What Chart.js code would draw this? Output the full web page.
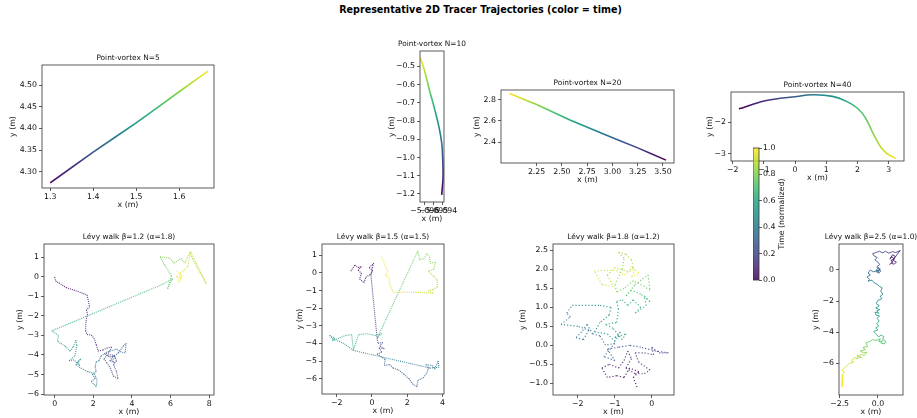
<!DOCTYPE html>
<html lang="en">
<head>
<meta charset="UTF-8">
<title>Representative 2D Tracer Trajectories</title>
<script src="https://cdn.jsdelivr.net/npm/chart.js"></script>
<style>
  body { margin: 0; background: #fff; }
  #fig { position: relative; width: 917px; height: 418px; overflow: hidden; font-family: 'DejaVu Sans', sans-serif; }
  #suptitle { position: absolute; left: 0; top: 4px; width: 961px; text-align: center; font-weight: bold; font-size: 9.6px; line-height: 12px; color: #000; }
  canvas { position: absolute; }
</style>
</head>
<body>
<div id="fig">
  <div id="suptitle">Representative 2D Tracer Trajectories (color = time)</div>
</div>
<script>
// ---- point-vortex tracers ----
const pv5X = [1.300, 1.400, 1.500, 1.600, 1.667];
const pv5Y = [4.274, 4.345, 4.413, 4.485, 4.533];
const pv5XLim = [1.281, 1.681], pv5YLim = [4.262, 4.547];
const pv5XTicks = [1.3, 1.4, 1.5, 1.6], pv5YTicks = [4.30, 4.35, 4.40, 4.45, 4.50];

const pv10X = [-5.09411, -5.09397, -5.09400, -5.09411, -5.09442, -5.09487, -5.09547, -5.09603, -5.09649];
const pv10Y = [-1.205, -1.105, -1.014, -0.922, -0.832, -0.740, -0.631, -0.522, -0.452];
const pv10XLim = [-5.09652, -5.09386], pv10YLim = [-1.244, -0.416];
const pv10XTicks = [-5.096, -5.095, -5.094], pv10YTicks = [-1.2, -1.1, -1.0, -0.9, -0.8, -0.7, -0.6, -0.5];

const pv20X = [3.53, 3.25, 2.90, 2.58, 2.25, 1.98];
const pv20Y = [2.232, 2.347, 2.483, 2.610, 2.754, 2.860];
const pv20XLim = [1.898, 3.609], pv20YLim = [2.205, 2.891];
const pv20XTicks = [2.25, 2.50, 2.75, 3.00, 3.25, 3.50], pv20YTicks = [2.4, 2.6, 2.8];

const pv40X = [-1.80, -0.96, 0.0, 0.58, 1.2, 1.65, 2.0, 2.25, 2.45, 2.6, 2.75, 2.94, 3.23];
const pv40Y = [-1.57, -1.31, -1.18, -1.12, -1.17, -1.33, -1.55, -1.85, -2.25, -2.55, -2.8, -3.0, -3.16];
const pv40XLim = [-2.054, 3.49], pv40YLim = [-3.24, -1.03];
const pv40XTicks = [-2, -1, 0, 1, 2, 3], pv40YTicks = [-3, -2];

// ---- Levy walks ----
const levy12X = [0, 0.05, 0.6, 1.2, 1.68, 1.81, 1.65, 1.7, 1.62, 1.6, 1.68, 1.9, 2.04, 2.16, 2.25, 2.5, 2.7, 2.95, 2.8, 2.6,
  2.85, 3.1, 3.2, 3.05, 3.2, 3.28, 3.05, 2.9, 2.7, 2.55, 2.75, 3.0, 3.15, 2.95, 3.1, 2.85, 3.0, 3.3, 3.55, 3.7,
  3.65, 3.45, 3.2, 2.7, 2.4, 2.3, 2.15, 2.1, 2.15, 1.95, 2.1, 1.9, 2.15, 2.2, 2.05, 1.7, 1.4, 1.1, 1.35, 1.2,
  1.3, 1.15, 1.0, 0.75, 1.05, 1.15, 1.1, 0.95, 0.8, 0.55, 0.3, 0.15, 0.2, -0.15, 5.6, 6.1, 5.85, 6.05, 5.7, 5.45,
  5.95, 6.2, 6.55, 6.75, 7.0, 7.15, 7.85, 7.3, 7.05, 6.9, 6.7, 6.45, 6.55, 6.3, 6.45, 6.6, 6.35];
const levy12Y = [0, -0.21, -0.55, -0.75, -0.93, -1.53, -1.7, -1.9, -2.3, -2.77, -2.95, -2.98, -3.15, -3.49, -3.8, -3.75, -3.65, -3.6, -3.9, -3.95,
  -4.1, -4.05, -4.3, -4.5, -4.85, -5.2, -5.1, -4.7, -4.4, -4.2, -4.0, -4.0, -4.15, -4.25, -4.4, -4.3, -4.1, -3.9, -3.55, -3.4,
  -3.9, -3.85, -3.7, -3.85, -4.05, -4.3, -4.35, -4.6, -4.85, -5.0, -5.2, -5.35, -5.62, -5.3, -4.95, -4.85, -4.7, -4.5, -4.2, -4.35,
  -4.55, -4.4, -4.25, -4.3, -4.05, -3.5, -3.25, -3.6, -3.8, -3.55, -3.4, -3.3, -3.0, -2.77, -0.38, -0.1, -0.6, 0.05, 0.6, 1.03,
  0.95, 0.7, 0.95, 0.7, 1.25, 0.9, -0.35, 0.75, 1.3, 0.55, 0.35, 0.15, -0.1, 0.05, -0.28, 0.05, 0.3];
const levy12XLim = [-0.55, 8.25], levy12YLim = [-6.05, 1.68];
const levy12XTicks = [0, 2, 4, 6, 8], levy12YTicks = [-6, -5, -4, -3, -2, -1, 0, 1];

const levy15X = [-1.2, -0.97, -0.8, -0.6, -0.78, -0.6, -0.7, -0.45, -0.35, -0.1, 0.05, -0.15, 0.1, 0.0, -0.05, 0.3, 0.35, 0.6, 0.45, 0.7,
  0.4, 0.55, 0.3, 0.5, 0.75, 0.7, 1.0, 1.2, 1.5, 1.8, 2.1, 2.3, 2.55, 2.6, 2.9, 3.1, 3.2, 3.05, 3.4, 3.55,
  3.75, 3.8, 3.3, -1.05, -1.6, -2.2, -2.4, -2.1, -2.25, -1.5, -1.15, -1.05, -0.75, -0.3, 0.2, 0.55, 0.3, 2.6, 2.7, 2.95,
  3.1, 3.25, 3.3, 3.6, 3.5, 3.2, 3.5, 3.7, 3.7, 3.45, 3.2, 3.45, 2.5, 1.9, 1.2, 1.0, 0.95, 0.75, 0.9, 0.5];
const levy15Y = [0.1, 0.45, 0.3, 0.35, 0.15, -0.02, -0.35, -0.55, -0.25, -0.1, 0.1, 0.3, 0.55, 0.25, -0.2, -3.8, -4.0, -3.95, -4.15, -4.3,
  -4.25, -4.5, -4.6, -4.75, -4.9, -5.25, -5.2, -5.4, -5.5, -5.75, -6.0, -6.3, -6.45, -6.1, -5.95, -5.7, -5.4, -5.2, -5.25, -5.45,
  -5.0, -5.35, -5.4, -4.4, -4.0, -3.75, -3.55, -3.7, -3.85, -3.55, -3.5, -4.35, -3.5, -3.45, -3.55, -3.45, -3.7, 1.25, 0.75, 0.8,
  1.1, 0.9, 0.55, 0.6, 0.2, 0.1, -0.2, -0.4, -0.8, -0.95, -1.0, -1.15, -1.1, -1.1, -1.1, -0.6, -0.25, -0.15, 0.05, 1.0];
const levy15XLim = [-2.83, 4.08], levy15YLim = [-6.87, 1.64];
const levy15XTicks = [-2, 0, 2, 4], levy15YTicks = [-6, -5, -4, -3, -2, -1, 0, 1];

const levy18X = [-0.4, -0.5, -0.35, -0.6, -0.75, -0.95, -1.2, -1.35, -1.15, -0.9, -0.75, -0.65, -0.55, -0.7, -0.45, -0.2, -0.05, -0.35, -0.45, -0.2,
  0.05, 0.0, 0.2, 0.45, 0.1, -0.3, -0.6, -0.9, -1.2, -1.0, -1.3, -1.0,
  -1.25, -1.4, -1.6, -1.75, -1.9, -2.05, -1.85, -1.7, -2.0, -2.45, -2.2, -2.3, -2.15, -1.8, -1.4, -1.1, -1.15, -1.4, -1.55, -1.2,
  -1.0, -0.85, -1.0, -0.7, -0.8, -1.05, -1.25, -0.95, -0.9,
  -0.95, -0.8, -0.65, -0.5, -0.3, -0.45, -0.15, -0.2, -0.05, -0.3, -0.55, -0.7,
  -0.45, -0.25, -0.1, -0.05, -0.2, -0.5, -0.75, -0.95, -1.0,
  -0.8, -0.75, -0.9, -0.7, -0.55, -0.5, -0.65, -1.0, -1.2, -1.05, -1.35,
  -1.55, -1.3, -0.95, -0.75, -0.6, -0.45, -0.55, -0.35, -0.6];
const levy18Y = [-1.1, -0.85, -0.7, -0.6, -0.85, -0.8, -0.85, -0.6, -0.5, -0.6, -0.4, -0.15, -0.35, -0.6, -0.75, -0.75, -0.65, -0.45, -0.2, -0.2,
  -0.25, -0.05, -0.2, -0.2, -0.15, -0.05, 0.0, -0.05, -0.1, -0.4, -0.3, 0.05,
  0.0, 0.25, 0.3, 0.55, 0.35, 0.2, 0.15, 0.4, 0.5, 0.55, 0.75, 0.85, 1.05, 1.05, 1.05, 1.0, 0.8, 0.6, 0.35, 0.3,
  0.1, 0.35, 0.2, 0.3, 0.15, 0.45, 0.55, 0.6, 0.95,
  1.15, 1.2, 1.05, 1.2, 1.0, 0.85, 1.05, 1.3, 1.15, 1.35, 1.45, 1.3,
  1.6, 1.75, 1.85, 1.45, 1.55, 1.7, 1.5, 1.4, 1.6,
  2.0, 2.3, 2.45, 2.4, 2.25, 2.05, 1.95, 2.05, 1.85, 1.55, 1.6,
  1.95, 1.98, 1.97, 1.85, 1.95, 2.0, 1.8, 1.9, 2.1];
const levy18XLim = [-2.67, 0.60], levy18YLim = [-1.31, 2.67];
const levy18XTicks = [-2, -1, 0], levy18YTicks = [-1.0, -0.5, 0.0, 0.5, 1.0, 1.5, 2.0, 2.5];

const levy25X = [0.75, 0.95, 0.85, 1.05, 0.9, 0.78, 0.95, 1.12, 1.0, 1.2, 1.05, 0.88, 1.1,
  1.25, 1.45, 1.15, 0.95, 0.7, 0.5, 0.3, 0.1, -0.15, -0.35, -0.25, -0.05, -0.2, 0.0, 0.12,
  -0.08, 0.12, 0.05, -0.12, 0.0, 0.18, 0.08, -0.1, 0.15, -0.05,
  -0.3, -0.5, -0.65, -0.5, -0.72, -0.55, -0.65, -0.4, -0.25, -0.05, 0.1, 0.28, 0.18, 0.32, 0.15, 0.25, 0.0,
  -0.12, 0.08, -0.15, 0.12, -0.08, 0.05, -0.2, -0.12, 0.1, -0.05, 0.08, -0.1, 0.05, -0.15, 0.0, -0.28, -0.12,
  0.05, 0.2, 0.38, 0.3, 0.52, 0.4, 0.18, 0.3, 0.05, 0.15, -0.12, -0.35, -0.55,
  -0.78, -0.68, -0.98, -0.82, -1.15, -0.95, -0.72, -0.9, -1.1, -1.25, -1.05, -1.35, -1.3,
  -1.55, -1.72, -1.58, -1.88,
  -2.05, -2.22, -2.36, -2.18, -2.3, -2.32, -2.34];
const levy25Y = [0.35, 0.5, 0.62, 0.72, 0.85, 0.7, 0.98, 0.88, 0.62, 0.5, 0.38, 0.42, 0.8,
  1.0, 1.25, 1.12, 1.18, 1.08, 1.2, 1.1, 1.2, 1.12, 1.05, 0.9, 0.8, 0.65, 0.5, 0.35,
  0.2, 0.1, -0.1, -0.02, 0.12, -0.05, -0.2, -0.12, 0.05, -0.05,
  -0.12, 0.0, -0.2, -0.32, -0.45, -0.6, -0.72, -0.65, -0.82, -0.92, -1.05, -1.15, -1.35, -1.55, -1.68, -1.85, -1.95,
  -2.15, -2.3, -2.45, -2.55, -2.62, -2.78, -2.7, -2.9, -2.95, -3.1, -3.3, -3.45, -3.6, -3.72, -3.85, -3.95, -4.12,
  -4.3, -4.18, -4.28, -4.45, -4.6, -4.75, -4.68, -4.55, -4.6, -4.42, -4.52, -4.48, -4.6,
  -4.68, -4.92, -4.98, -5.12, -5.2, -5.32, -5.28, -5.5, -5.42, -5.6, -5.65, -5.45, -5.72,
  -5.62, -5.82, -5.92, -6.0,
  -6.18, -6.32, -6.45, -6.55, -6.7, -7.1, -7.5];
const levy25XLim = [-2.54, 1.63], levy25YLim = [-8.03, 1.67];
const levy25XTicks = [-2.5, 0.0], levy25YTicks = [-6, -4, -2, 0];

// colorbar
const cbLabels = [''];
const cbRange = [[0, 1]];
const cbTicks = [0.0, 0.2, 0.4, 0.6, 0.8, 1.0];

// ---- helpers ----
const fig = document.getElementById('fig');
const TICK_PX = 7.8, LABEL_PX = 7.8, TITLE_PX = 7.4;
Chart.defaults.font.family = "'DejaVu Sans', sans-serif";
Chart.defaults.font.size = TICK_PX;
Chart.defaults.color = '#111';

const VIR = ['#440154', '#482475', '#414487', '#355f8d', '#2a788e', '#21918c', '#22a884', '#44bf70', '#7ad151', '#bddf26', '#fde725'];
function hexRgb(c) { return [1, 3, 5].map(i => parseInt(c.substr(i, 2), 16)); }
function viridis(t, a) {
  t = Math.min(1, Math.max(0, t));
  const f = t * 10, i = Math.min(9, Math.floor(f)), u = f - i;
  const c0 = hexRgb(VIR[i]), c1 = hexRgb(VIR[i + 1]);
  const c = c0.map((v, k) => Math.round(v + (c1[k] - v) * u));
  return `rgba(${c[0]},${c[1]},${c[2]},${a})`;
}

function pts(xs, ys) { return xs.map((x, i) => ({ x: x, y: ys[i] })); }

// constant-speed walk: time follows distance travelled
function arcTime(xs, ys) {
  const c = [0];
  for (let i = 1; i < xs.length; i++) c.push(c[i - 1] + Math.hypot(xs[i] - xs[i - 1], ys[i] - ys[i - 1]));
  return c.map(v => v / c[c.length - 1]);
}

function gradientColor(xs, ys, alpha) {
  return ctx => {
    const ch = ctx.chart;
    if (!ch.chartArea) return viridis(0, alpha);
    const sx = ch.scales.x, sy = ch.scales.y, n = xs.length - 1;
    const g = ch.ctx.createLinearGradient(sx.getPixelForValue(xs[0]), sy.getPixelForValue(ys[0]),
      sx.getPixelForValue(xs[n]), sy.getPixelForValue(ys[n]));
    for (let k = 0; k <= 10; k++) g.addColorStop(k / 10, viridis(k / 10, alpha));
    return g;
  };
}

function segColor(T, alpha) {
  return c => {
    const t0 = T[c.p0DataIndex], t1 = T[c.p1DataIndex];
    if (!c.chart || !isFinite(c.p0.x) || !isFinite(c.p1.x)) return viridis((t0 + t1) / 2, alpha);
    const g = c.chart.ctx.createLinearGradient(c.p0.x, c.p0.y, c.p1.x, c.p1.y);
    for (let k = 0; k <= 4; k++) g.addColorStop(k / 4, viridis(t0 + (t1 - t0) * k / 4, alpha));
    return g;
  };
}

const frame = {
  id: 'frame',
  afterDatasetsDraw(chart) {
    const { ctx, chartArea: a } = chart;
    ctx.save();
    ctx.strokeStyle = '#333';
    ctx.lineWidth = 0.8;
    ctx.strokeRect(a.left, a.top, a.right - a.left, a.bottom - a.top);
    ctx.restore();
  }
};

const axTitle = {
  id: 'axTitle',
  afterDraw(chart, args, opts) {
    if (!opts.text) return;
    const { ctx, chartArea: a } = chart;
    ctx.save();
    ctx.font = TITLE_PX + "px 'DejaVu Sans'";
    ctx.fillStyle = '#111';
    ctx.textAlign = 'center';
    ctx.textBaseline = 'middle';
    ctx.fillText(opts.text, (a.left + a.right) / 2, a.top - 7);
    ctx.restore();
  }
};

function scaleOpts(axis, lim, ticks, dec, size) {
  const isX = axis === 'x';
  return {
    type: 'linear',
    position: isX ? 'bottom' : 'left',
    min: lim[0], max: lim[1],
    afterBuildTicks: s => { s.ticks = ticks.map(v => ({ value: v })); },
    afterFit: s => {
      if (isX) { s.height = size; s.paddingLeft = 0; s.paddingRight = 0; }
      else { s.width = size; s.paddingTop = 0; s.paddingBottom = 0; }
    },
    ticks: {
      autoSkip: false, maxRotation: 0, minRotation: 0,
      padding: isX ? 1 : 2, color: '#111', font: { size: TICK_PX },
      callback: v => Number(v).toFixed(dec).replace('-', '\u2212')
    },
    grid: { drawOnChartArea: false, drawTicks: true, tickLength: 3, color: '#333', lineWidth: 0.8 },
    border: { display: false },
    title: { display: true, text: axis + ' (m)', font: { size: LABEL_PX }, color: '#111', padding: 0 }
  };
}

function panel(o) {
  const [l, t, r, b] = o.box;
  const padR = o.padR || 18, topH = 14, xH = 22;
  const w = o.yW + (r - l) + padR, h = topH + (b - t) + xH;
  const cv = document.createElement('canvas');
  cv.width = w; cv.height = h;
  cv.style.left = (l - o.yW) + 'px';
  cv.style.top = (t - topH) + 'px';
  cv.style.width = w + 'px';
  cv.style.height = h + 'px';
  fig.appendChild(cv);
  new Chart(cv, {
    type: 'line',
    data: { datasets: o.datasets },
    options: {
      responsive: false, animation: false, devicePixelRatio: 1,
      layout: { padding: { left: 0, top: topH, right: padR, bottom: 0 } },
      plugins: { legend: { display: false }, tooltip: { enabled: false }, axTitle: { text: o.title } },
      scales: {
        x: scaleOpts('x', o.xLim, o.xTicks, o.xDec, xH),
        y: scaleOpts('y', o.yLim, o.yTicks, o.yDec, o.yW)
      }
    },
    plugins: [frame, axTitle]
  });
}

function smoothSet(xs, ys, tension) {
  return [{ data: pts(xs, ys), borderColor: gradientColor(xs, ys, 1), borderWidth: 1.6,
    pointRadius: 0, tension: tension, fill: false }];
}

function walkSet(xs, ys, dash, width) {
  const T = arcTime(xs, ys), alpha = 0.85;
  return [{ data: pts(xs, ys), borderColor: viridis(0, alpha), borderWidth: width, borderDash: dash,
    pointRadius: 0, tension: 0, fill: false, segment: { borderColor: segColor(T, alpha) } }];
}

// ---- top row ----
panel({ title: 'Point-vortex N=5', box: [42, 65, 214, 188], yW: 34,
  xLim: pv5XLim, yLim: pv5YLim, xTicks: pv5XTicks, yTicks: pv5YTicks, xDec: 1, yDec: 2,
  datasets: smoothSet(pv5X, pv5Y, 0.1) });
panel({ title: 'Point-vortex N=10', box: [420, 51, 444, 202], yW: 33, padR: 34,
  xLim: pv10XLim, yLim: pv10YLim, xTicks: pv10XTicks, yTicks: pv10YTicks, xDec: 3, yDec: 1,
  datasets: smoothSet(pv10X, pv10Y, 0.4) });
panel({ title: 'Point-vortex N=20', box: [501, 90, 674, 163], yW: 29,
  xLim: pv20XLim, yLim: pv20YLim, xTicks: pv20XTicks, yTicks: pv20YTicks, xDec: 2, yDec: 1,
  datasets: smoothSet(pv20X, pv20Y, 0.1) });
panel({ title: 'Point-vortex N=40', box: [731, 92, 904, 161], yW: 26, padR: 12,
  xLim: pv40XLim, yLim: pv40YLim, xTicks: pv40XTicks, yTicks: pv40YTicks, xDec: 0, yDec: 0,
  datasets: smoothSet(pv40X, pv40Y, 0.3) });

// ---- bottom row ----
panel({ title: 'L\u00e9vy walk \u03b2=1.2 (\u03b1=1.8)', box: [44, 244, 214, 395], yW: 29,
  xLim: levy12XLim, yLim: levy12YLim, xTicks: levy12XTicks, yTicks: levy12YTicks, xDec: 0, yDec: 0,
  datasets: walkSet(levy12X, levy12Y, [1, 1], 1.1) });
panel({ title: 'L\u00e9vy walk \u03b2=1.5 (\u03b1=1.5)', box: [322, 244, 444, 394], yW: 27,
  xLim: levy15XLim, yLim: levy15YLim, xTicks: levy15XTicks, yTicks: levy15YTicks, xDec: 0, yDec: 0,
  datasets: walkSet(levy15X, levy15Y, [1, 1], 1.1) });
panel({ title: 'L\u00e9vy walk \u03b2=1.8 (\u03b1=1.2)', box: [553, 244, 674, 395], yW: 35,
  xLim: levy18XLim, yLim: levy18YLim, xTicks: levy18XTicks, yTicks: levy18YTicks, xDec: 0, yDec: 1,
  datasets: walkSet(levy18X, levy18Y, [1.2, 2], 1.2) });
panel({ title: 'L\u00e9vy walk \u03b2=2.5 (\u03b1=1.0)', box: [839, 244, 903, 395], yW: 28, padR: 20,
  xLim: levy25XLim, yLim: levy25YLim, xTicks: levy25XTicks, yTicks: levy25YTicks, xDec: 1, yDec: 0,
  datasets: walkSet(levy25X, levy25Y, [], 1) });

// ---- colorbar ----
const cbLabel = {
  id: 'cbLabel',
  afterDraw(chart) {
    const { ctx, chartArea: a } = chart;
    ctx.save();
    ctx.translate(a.right + 23, (a.top + a.bottom) / 2);
    ctx.rotate(-Math.PI / 2);
    ctx.font = LABEL_PX + "px 'DejaVu Sans'";
    ctx.fillStyle = '#111';
    ctx.textAlign = 'center';
    ctx.textBaseline = 'middle';
    ctx.fillText('Time (normalized)', 0, 0);
    ctx.restore();
  }
};
(function () {
  const cv = document.createElement('canvas');
  cv.width = 46; cv.height = 144;
  cv.style.left = '753px'; cv.style.top = '142px';
  cv.style.width = '46px'; cv.style.height = '144px';
  fig.appendChild(cv);
  new Chart(cv, {
    type: 'bar',
    data: {
      labels: cbLabels,
      datasets: [{
        data: cbRange, borderWidth: 0, barPercentage: 1, categoryPercentage: 1,
        backgroundColor: ctx => {
          const a = ctx.chart.chartArea;
          if (!a) return viridis(0.5, 0.85);
          const g = ctx.chart.ctx.createLinearGradient(0, a.bottom, 0, a.top);
          for (let k = 0; k <= 10; k++) g.addColorStop(k / 10, viridis(k / 10, 0.85));
          return g;
        }
      }]
    },
    options: {
      responsive: false, animation: false, devicePixelRatio: 1,
      layout: { padding: { left: 0, top: 6, right: 10, bottom: 6 } },
      plugins: { legend: { display: false }, tooltip: { enabled: false } },
      scales: {
        x: { display: false },
        y: {
          type: 'linear', position: 'right', min: 0, max: 1,
          afterBuildTicks: s => { s.ticks = cbTicks.map(v => ({ value: v })); },
          afterFit: s => { s.width = 30; s.paddingTop = 0; s.paddingBottom = 0; },
          ticks: { padding: 1, color: '#111', font: { size: TICK_PX }, callback: v => Number(v).toFixed(1) },
          grid: { drawOnChartArea: false, drawTicks: true, tickLength: 3, color: '#333', lineWidth: 0.8 },
          border: { display: false }
        }
      }
    },
    plugins: [frame, cbLabel]
  });
})();
</script>
</body>
</html>
